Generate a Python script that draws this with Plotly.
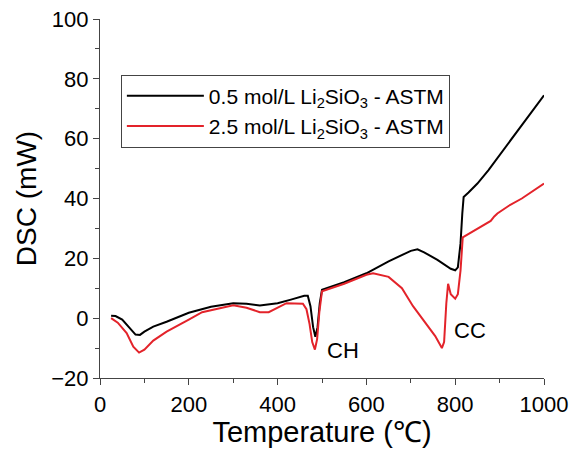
import plotly.graph_objects as go

# DSC traces (temperature in °C, heat flow in mW)
temp_05 = [25, 35, 50, 65, 80, 90, 100, 120, 150, 200, 250, 300, 330, 360, 400, 430,
           460, 468, 474, 480, 485, 490, 495, 500, 550, 600, 650, 700, 715, 730, 760,
           790, 800, 806, 812, 816, 819, 830, 850, 875, 900, 925, 950, 975, 1000]
dsc_05 = [0.8, 0.7, -0.5, -3, -5.5, -5.6, -4.5, -2.8, -1.2, 1.8, 3.8, 5.0, 4.8, 4.2, 5.0, 6.2,
          7.5, 7.5, 4, -3, -6.2, -3, 5, 9.5, 12, 15, 19, 22.5, 23, 22, 19.5,
          16.5, 16, 17, 25, 35, 40.5, 42, 45, 49.5, 54.5, 59.5, 64.5, 69.5, 74.5]

temp_25 = [25, 40, 60, 75, 88, 100, 120, 150, 200, 230, 300, 330, 360, 380, 420, 457,
           465, 472, 478, 484, 489, 494, 500, 550, 600, 615, 650, 680, 705, 730, 755,
           770, 775, 780, 784, 790, 800, 806, 812, 817, 850, 880, 888, 895, 920, 950, 1000]
dsc_25 = [0, -1.5, -5, -9.5, -11.5, -10.5, -7.5, -4.5, -0.5, 2, 4.3, 3.5, 2, 2, 5, 4.8,
          3, -2, -8, -10.5, -7, 2, 9, 11.5, 14.5, 15, 13.8, 10, 4, -1, -6,
          -10, -8, 5, 11.5, 8, 6.5, 8, 16, 27, 30, 32.5, 34, 35, 37.5, 40, 45]

series_names = ["0.5 mol/L Li<sub>2</sub>SiO<sub>3</sub> - ASTM",
                "2.5 mol/L Li<sub>2</sub>SiO<sub>3</sub> - ASTM"]
peak_labels = [(547, -10.7, "CH"), (833, -4, "CC")]

font_family = "Liberation Sans, Arial, sans-serif"

fig = go.Figure()
fig.add_trace(go.Scatter(x=temp_05, y=dsc_05, mode="lines", name=series_names[0],
                         line=dict(color="black", width=2)))
fig.add_trace(go.Scatter(x=temp_25, y=dsc_25, mode="lines", name=series_names[1],
                         line=dict(color="#e3232a", width=2)))

for x, y, txt in peak_labels:
    fig.add_annotation(x=x, y=y, text=txt, showarrow=False,
                       font=dict(size=22, color="black", family=font_family))

axis_common = dict(showline=True, linecolor="#444444", linewidth=1.2,
                   ticks="outside", ticklen=6, tickcolor="#444444",
                   showgrid=False, zeroline=False, automargin=False,
                   tickfont=dict(size=22, color="black", family=font_family))

fig.update_xaxes(range=[0, 1000], dtick=200,
                 minor=dict(ticks="outside", dtick=100, ticklen=4, tickcolor="#444444"),
                 title=dict(text="Temperature (℃)", standoff=4,
                            font=dict(size=29, color="black", family=font_family)),
                 **axis_common)
fig.update_yaxes(range=[-20, 100], dtick=20,
                 minor=dict(ticks="outside", dtick=10, ticklen=4, tickcolor="#444444"),
                 title=dict(text="DSC (mW)", standoff=6,
                            font=dict(size=28, color="black", family=font_family)),
                 **axis_common)

fig.update_layout(
    width=575, height=452,
    margin=dict(l=100, r=31, t=19, b=74),
    paper_bgcolor="white", plot_bgcolor="white",
    showlegend=True,
    legend=dict(x=0.047, y=0.845, xanchor="left", yanchor="top",
                bordercolor="#444444", borderwidth=1, bgcolor="white",
                font=dict(size=21, color="black", family=font_family),
                itemwidth=77, tracegroupgap=0),
)

fig.write_html("out.html")
